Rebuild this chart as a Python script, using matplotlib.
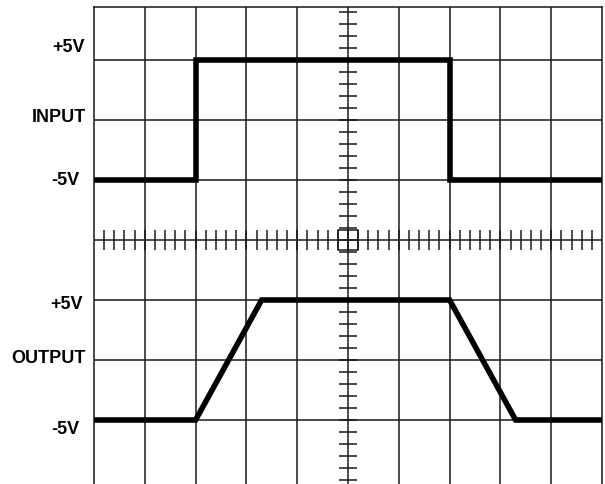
import numpy as np
import matplotlib
matplotlib.use("Agg")
import matplotlib.pyplot as plt
from matplotlib.patches import Rectangle

plt.rcParams['font.family'] = ['Liberation Sans', 'DejaVu Sans']

# time axis in graticule divisions, levels in volts
input_t = [0, 2, 2, 7, 7, 10]
input_v = [-5, -5, 5, 5, -5, -5]
output_t = [0, 2, 3.3, 7, 8.3, 10]
output_v = [-5, -5, 5, 5, -5, -5]

VOLTS_PER_DIV = 5
INPUT_CENTER = 2      # trace baselines in divisions
OUTPUT_CENTER = -2

labels = ['+5V', 'INPUT', '-5V', '+5V', 'OUTPUT', '-5V']
label_y = [3.21, 2.05, 0.99, -1.07, -1.98, -3.15]
label_x = [-0.18, -0.16, -0.28, -0.22, -0.16, -0.28]

GRID = '#1a1a1a'

fig = plt.figure(figsize=(6.05, 4.84), dpi=100)
ax = fig.add_axes([94 / 605, 0, (602 - 94) / 605, (484 - 7) / 484])
ax.set_xlim(0, 10)
ax.set_ylim(-(484 - 240) / 60, (240 - 7) / 60)
ax.set_xticks([])
ax.set_yticks([])
for side, sp in ax.spines.items():
    sp.set_color(GRID)
    sp.set_linewidth(1.1)
ax.spines['bottom'].set_visible(False)

# graticule
for x in range(1, 10):
    ax.axvline(x, color=GRID, lw=1.1, zorder=1)
for y in range(-3, 4):
    ax.axhline(y, color=GRID, lw=1.1, zorder=1)

# minor ticks on the centre cross
xt = np.arange(0.2, 10, 0.2)
ax.vlines(xt, -0.17, 0.17, color=GRID, lw=1.1, zorder=1)
yt = np.arange(-4.0, 3.85, 0.2)
ax.hlines(yt, 5 - 0.18, 5 + 0.18, color=GRID, lw=1.1, zorder=1)
ax.add_patch(Rectangle((5 - 0.19, -0.16), 0.38, 0.32, fill=False,
                       ec=GRID, lw=1.1, zorder=1))

# traces
ax.plot(input_t, INPUT_CENTER + np.array(input_v) / VOLTS_PER_DIV,
        color='black', lw=4.0, solid_joinstyle='miter',
        solid_capstyle='butt', zorder=3, clip_on=False)
ax.plot(output_t, OUTPUT_CENTER + np.array(output_v) / VOLTS_PER_DIV,
        color='black', lw=4.0, solid_joinstyle='miter',
        solid_capstyle='butt', zorder=3, clip_on=False)

for text, x, y in zip(labels, label_x, label_y):
    ax.text(x, y, text, ha='right', va='center', fontsize=13,
            fontweight='bold', color='black')

fig.savefig('out.png', dpi=100)
